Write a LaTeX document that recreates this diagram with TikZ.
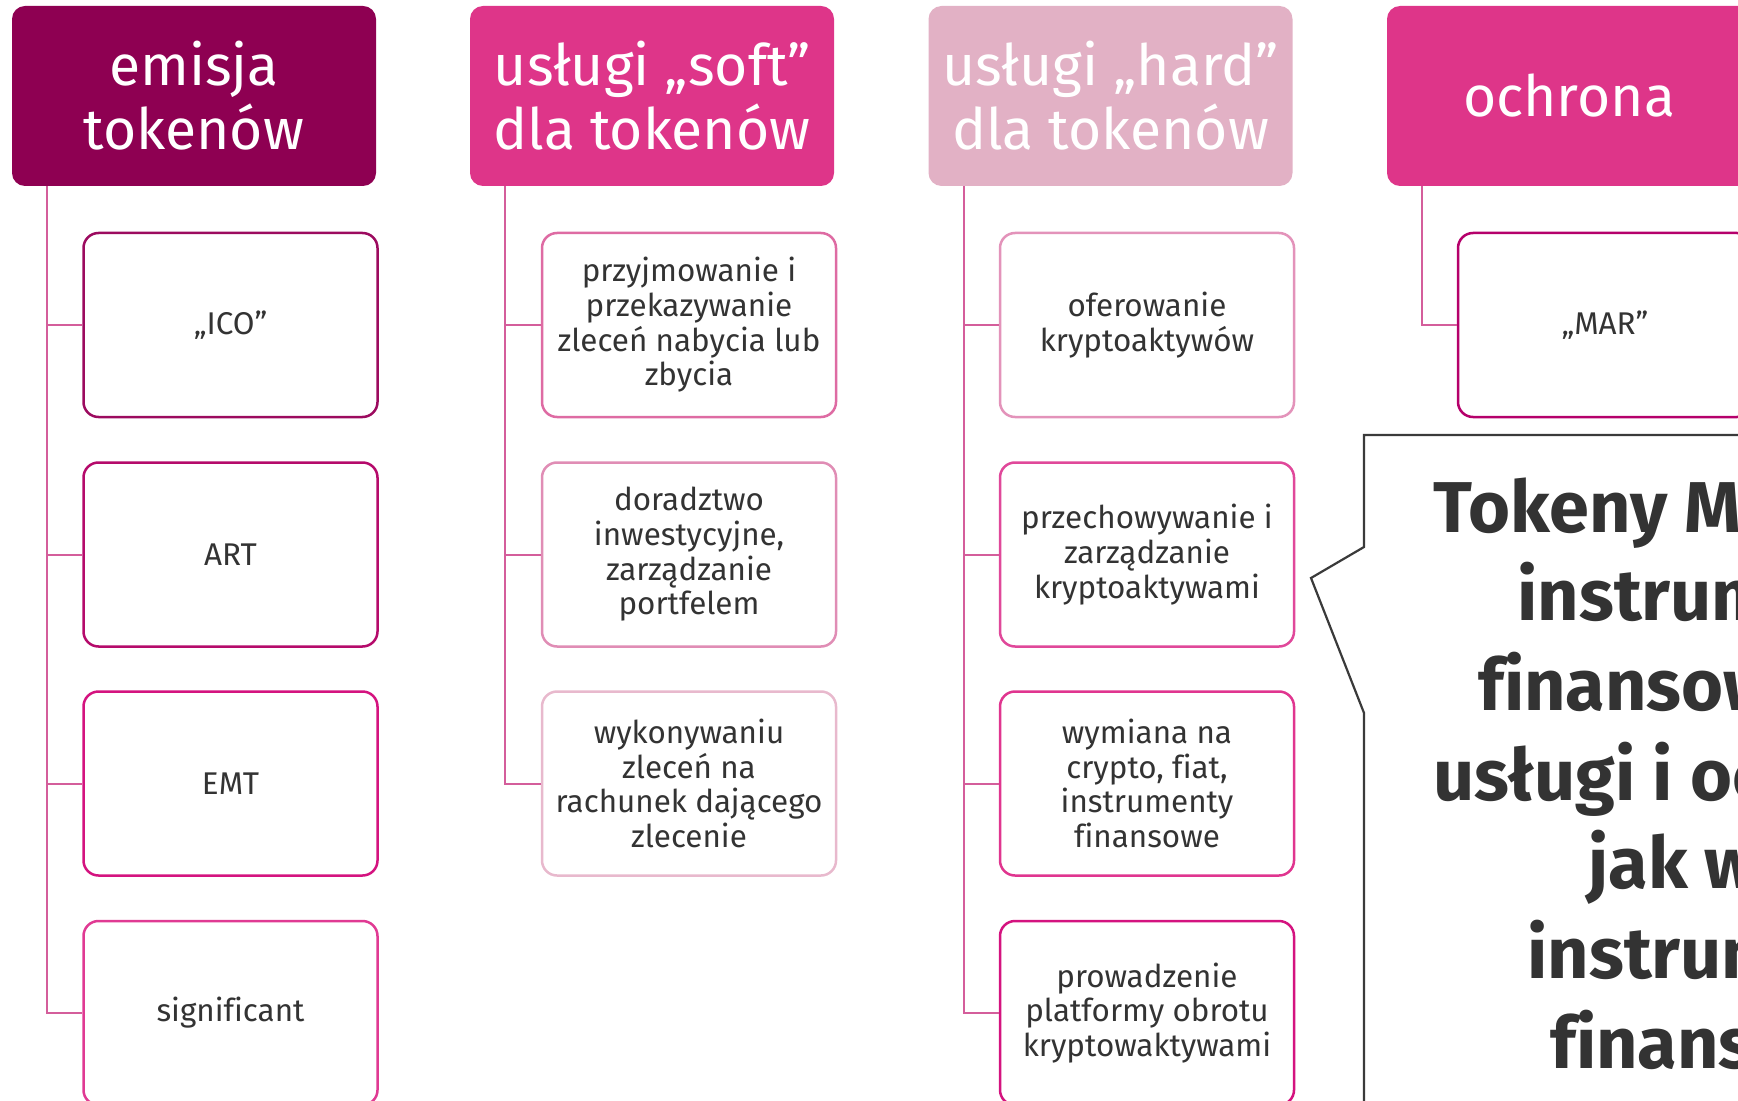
\documentclass[tikz,border=0pt]{standalone}
\usepackage{fontspec}
\setmainfont[Ligatures=NoCommon]{Fira Sans}
\definecolor{hA}{HTML}{8E0052}
\definecolor{hB}{HTML}{DE3589}
\definecolor{hC}{HTML}{E2B1C5}
\definecolor{txt}{HTML}{333333}
\definecolor{connc}{HTML}{D45E9B}
\definecolor{calc}{HTML}{3A3A3A}
\definecolor{b11}{HTML}{9C0A5F}
\definecolor{b12}{HTML}{B50A6B}
\definecolor{b13}{HTML}{D4137F}
\definecolor{b14}{HTML}{E03A93}
\definecolor{b21}{HTML}{DE6BA3}
\definecolor{b22}{HTML}{E08DB5}
\definecolor{b23}{HTML}{E8B9CD}
\definecolor{b31}{HTML}{E393BA}
\definecolor{b32}{HTML}{E0489A}
\definecolor{b33}{HTML}{E0358F}
\definecolor{b34}{HTML}{D4137F}
\definecolor{b41}{HTML}{B5006B}
\tikzset{
 hdr/.style={rounded corners=6.5pt, minimum width=182pt, minimum height=90pt, inner sep=0pt, text=white, align=center, font=\fontsize{28.5}{32}\selectfont},
 child/.style={draw, rounded corners=7.5pt, line width=1.25pt, fill=white, minimum width=147pt, minimum height=92pt, inner sep=0pt, text=txt, align=center, font=\fontsize{15.7}{17.35}\selectfont},
 conn/.style={draw=connc, line width=1pt},
 callout/.style={draw=calc, line width=1.1pt},
 big/.style={anchor=base west, inner sep=0pt, text=txt, font=\fontsize{36}{45}\selectfont\bfseries}
}
\begin{document}
\begin{tikzpicture}[x=0.5pt,y=-0.5pt]
\useasboundingbox (0,0) rectangle (1738,1101);
\clip (0,0) rectangle (1738,1101);
% headers
\node[hdr, fill=hA] (h1) at (194,96) {emisja\\tokenów};
\node[hdr, fill=hB] (h2) at (652,96) {usługi „soft”\\dla tokenów};
\node[hdr, fill=hC] (h3) at (1110.5,96) {usługi „hard”\\dla tokenów};
\node[hdr, fill=hB] (h4) at (1569,96) {ochrona};
% trunk coordinates
\coordinate (t1) at ([xshift=17.75pt]h1.south west);
\coordinate (t2) at ([xshift=17.75pt]h2.south west);
\coordinate (t3) at ([xshift=17.75pt]h3.south west);
\coordinate (t4) at ([xshift=17.75pt]h4.south west);
% column 1
\node[child, draw=b11] (c11) at (230.5,325) {„ICO”};
\node[child, draw=b12] (c12) at (230.5,554.5) {ART};
\node[child, draw=b13] (c13) at (230.5,783.5) {EMT};
\node[child, draw=b14] (c14) at (230.5,1013) {significant};
% column 2
\node[child, draw=b21] (c21) at (689,325) {przyjmowanie i\\przekazywanie\\zleceń nabycia lub\\zbycia};
\node[child, draw=b22] (c22) at (689,554.5) {doradztwo\\inwestycyjne,\\zarządzanie\\portfelem};
\node[child, draw=b23] (c23) at (689,783.5) {wykonywaniu\\zleceń na\\rachunek dającego\\zlecenie};
% column 3
\node[child, draw=b31] (c31) at (1147,325) {oferowanie\\kryptoaktywów};
\node[child, draw=b32] (c32) at (1147,554.5) {przechowywanie i\\zarządzanie\\kryptoaktywami};
\node[child, draw=b33] (c33) at (1147,783.5) {wymiana na\\crypto, fiat,\\instrumenty\\finansowe};
\node[child, draw=b34] (c34) at (1147,1013) {prowadzenie\\platformy obrotu\\kryptowaktywami};
% column 4
\node[child, draw=b41] (c41) at (1605,325) {„MAR”};
% connectors
\foreach \c in {c11,c12,c13,c14} \draw[conn] (t1) |- (\c.west);
\foreach \c in {c21,c22,c23} \draw[conn] (t2) |- (\c.west);
\foreach \c in {c31,c32,c33,c34} \draw[conn] (t3) |- (\c.west);
\draw[conn] (t4) |- (c41.west);
% callout
\coordinate (k1) at (1760,435);
\coordinate (k2) at (1364,435);
\coordinate (k3) at (1364,547);
\coordinate (k4) at (1311,578);
\coordinate (k5) at (1364,713);
\coordinate (k6) at (1364,1110);
\draw[callout] (k1) -- (k2) -- (k3) -- (k4) -- (k5) -- (k6);
\node[big] (l1) at (1433,532) {Tokeny M};
\node[big] (l2) at (1517,620) {instrum};
\node[big] (l3) at (1478,710) {finansow};
\node[big] (l4) at (1433,800) {usługi i oc};
\node[big] (l5) at (1588,888) {jak w};
\node[big] (l6) at (1527,978) {instrum};
\node[big] (l7) at (1550,1068) {finans};
\end{tikzpicture}
\end{document}
